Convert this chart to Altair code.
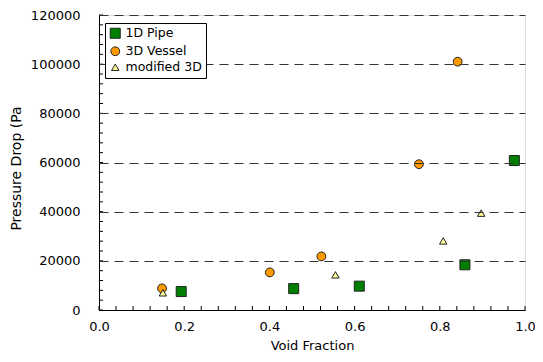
import altair as alt
import pandas as pd

series_names = ["1D Pipe", "3D Vessel", "modified 3D"]

pipe_x = [0.193, 0.457, 0.611, 0.859, 0.975]
pipe_y = [7500, 8700, 9700, 18400, 60800]

vessel_x = [0.148, 0.401, 0.522, 0.751, 0.842]
vessel_y = [8800, 15300, 21800, 59300, 101000]

mod_x = [0.150, 0.555, 0.808, 0.897]
mod_y = [7000, 14300, 28100, 39400]

x_major = [0.0, 0.2, 0.4, 0.6, 0.8, 1.0]
y_major = [0, 20000, 40000, 60000, 80000, 100000, 120000]
x_minor = [round(i * 0.04, 2) for i in range(26)]
y_minor = [i * 4000 for i in range(31)]

W, H = 426, 295
FONT = "DejaVu Sans"

rows = []
for name, xs, ys in [(series_names[0], pipe_x, pipe_y),
                     (series_names[1], vessel_x, vessel_y),
                     (series_names[2], mod_x, mod_y)]:
    for xv, yv in zip(xs, ys):
        rows.append({"vf": xv, "dp": yv, "series": name})
df = pd.DataFrame(rows)
df["order"] = df["series"].map({n: i for i, n in enumerate(series_names)})

xscale = alt.Scale(domain=[0, 1], nice=False, zero=False)
yscale = alt.Scale(domain=[0, 120000], nice=False)

xaxis = alt.Axis(values=x_major, format=".1f", ticks=False, grid=False,
                 domainColor="black", labelPadding=10, labelFontSize=13,
                 labelFont=FONT, labelColor="black", labelFlush=False,
                 title="Void Fraction", titleFont=FONT, titleFontSize=13,
                 titleFontWeight="normal", titleColor="black",
                 titleBaseline="top", titleY=29, zindex=1)
yaxis = alt.Axis(values=y_major, format="d", ticks=False, grid=True,
                 gridDash=[9, 6], gridColor="#333", gridWidth=1,
                 domainColor="black", labelPadding=19, labelFontSize=13,
                 labelFont=FONT, labelColor="black", labelFlush=False,
                 title="Pressure Drop (Pa", titleFont=FONT, titleFontSize=14,
                 titleFontWeight="normal", titleColor="black",
                 titleAngle=-90, titleX=-79, titleY=153,
                 titleAlign="center", titleBaseline="alphabetic", zindex=1)

points = alt.Chart(df).mark_point(filled=True, stroke="#222", strokeWidth=1, opacity=1).encode(
    x=alt.X("vf:Q", scale=xscale, axis=xaxis),
    y=alt.Y("dp:Q", scale=yscale, axis=yaxis),
    color=alt.Color("series:N", scale=alt.Scale(domain=series_names,
                    range=["#008000", "#FF9900", "#FFFF99"]),
                    legend=alt.Legend(title=None, orient="none", legendX=6, legendY=8,
                                      strokeColor="black", fillColor="white",
                                      padding=4, rowPadding=3, labelFont=FONT,
                                      labelFontSize=12.5, labelColor="black",
                                      labelOffset=4, symbolStrokeColor="#222",
                                      symbolStrokeWidth=1, symbolOpacity=1,
                                      zindex=3)),
    shape=alt.Shape("series:N", scale=alt.Scale(domain=series_names,
                    range=["square", "circle", "triangle-up"])),
    size=alt.Size("series:N", scale=alt.Scale(domain=series_names,
                  range=[100, 55, 28])),
    order=alt.Order("order:Q"),
)

xt = pd.DataFrame({"vf": x_minor})
yt = pd.DataFrame({"dp": y_minor})

xticks = alt.Chart(xt).mark_rule(color="black", strokeWidth=1).encode(
    x=alt.X("vf:Q", scale=xscale, axis=xaxis),
    y=alt.value(H),
    y2=alt.value(H - 4),
)
yticks = alt.Chart(yt).mark_rule(color="black", strokeWidth=1).encode(
    y=alt.Y("dp:Q", scale=yscale, axis=yaxis),
    x=alt.value(0),
    x2=alt.value(4),
)

chart = alt.layer(points, xticks, yticks).properties(
    width=W, height=H,
    autosize=alt.AutoSizeParams(type="none"),
    padding={"left": 91, "top": 7, "right": 10, "bottom": 43},
).configure_view(stroke="#999", strokeWidth=1).configure(background="white")

chart.save("out.html", embed_options={"renderer": "svg", "actions": False})
